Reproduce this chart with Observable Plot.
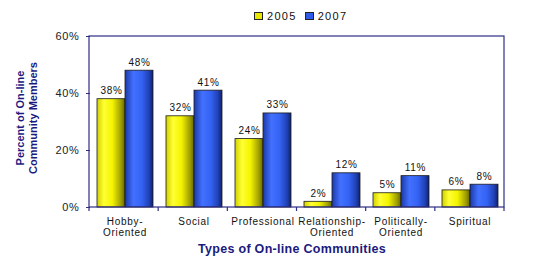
<!DOCTYPE html>
<html><head><meta charset="utf-8">
<script src="https://cdn.jsdelivr.net/npm/d3@7"></script>
<script src="https://cdn.jsdelivr.net/npm/@observablehq/plot@0.6"></script>
<style>
body{margin:0;background:#fff;font-family:"Liberation Sans",Arial,sans-serif;}
#wrap{position:relative;width:540px;height:265px;}
#legend{position:absolute;top:10px;left:254px;font-size:11px;letter-spacing:1.3px;color:#111;display:flex;align-items:center;}
#legend .sw{display:inline-block;width:7px;height:6px;border:1px solid #222;margin-right:4px;}
#ytitle{position:absolute;left:27px;top:118px;transform:translate(-50%,-50%) rotate(-90deg);font-size:11px;font-weight:bold;color:#1a1a80;text-align:center;line-height:13px;white-space:nowrap;}
#xtitle{position:absolute;left:292px;top:242px;transform:translateX(-50%);font-size:12.5px;font-weight:bold;color:#1a1a80;white-space:nowrap;letter-spacing:0.3px;}
svg text{font-family:"Liberation Sans",Arial,sans-serif;}
</style></head>
<body><div id="wrap"></div>
<script>
const categories = ["Hobby-Oriented","Social","Professional","Relationship-Oriented","Politically-Oriented","Spiritual"];
const categoryLabels = ["Hobby-\nOriented","Social","Professional","Relationship-\nOriented","Politically-\nOriented","Spiritual"];
const years = ["2005","2007"];
const values2005 = [38,32,24,2,5,6];
const values2007 = [48,41,33,12,11,8];
const yTicks = [0,20,40,60];

const data = [];
categories.forEach((c,i)=>{
  data.push({cat:c, year:"2005", v:values2005[i]});
  data.push({cat:c, year:"2007", v:values2007[i]});
});
const labelData = categories.map((c,i)=>({cat:c, label:categoryLabels[i]}));

const plot = Plot.plot({
  width:540, height:265,
  marginTop:36, marginBottom:58, marginLeft:89, marginRight:36,
  style:{fontSize:"11px", fontFamily:"Liberation Sans, Arial, sans-serif", color:"#222"},
  fx:{domain:categories, padding:0, axis:null},
  x:{domain:years, paddingOuter:0.23, paddingInner:0, axis:null},
  y:{domain:[0,60], ticks:yTicks, tickFormat:d=>d+"%", tickSize:4, tickPadding:7, label:null},
  color:{type:"identity"},
  marks:[
    Plot.barY(data, {fx:"cat", x:"year", y:"v", fill:d=>"url(#g"+d.year+")", stroke:"#1a1a1a", strokeWidth:0.8}),
    Plot.text(data, {fx:"cat", x:"year", y:"v", text:d=>d.v+"%", dy:-5, lineAnchor:"bottom", fontSize:10, fill:"#111"}),
    Plot.text(labelData, {fx:"cat", text:"label", frameAnchor:"bottom", dy:9, lineAnchor:"top", fontSize:10, fill:"#111", lineHeight:1.15})
  ]
});

const svg = d3.select(plot);
const defs = svg.insert("defs", ":first-child");
const g1 = defs.append("linearGradient").attr("id","g2005").attr("x1",0).attr("x2",1).attr("y1",0).attr("y2",0);
[[0,"#d0d000"],[0.25,"#ffff33"],[0.55,"#f4f400"],[0.85,"#a0a000"],[1,"#666600"]].forEach(([o,c])=>g1.append("stop").attr("offset",o).attr("stop-color",c));
const g2 = defs.append("linearGradient").attr("id","g2007").attr("x1",0).attr("x2",1).attr("y1",0).attr("y2",0);
[[0,"#1c3aa8"],[0.3,"#4270ff"],[0.6,"#3462f2"],[0.85,"#2142b8"],[1,"#10226e"]].forEach(([o,c])=>g2.append("stop").attr("offset",o).attr("stop-color",c));

svg.selectAll("text").style("letter-spacing","0.7px");

const fx = plot.scale("fx"), y = plot.scale("y");
const x0 = fx.range ? Math.min(...fx.range) : 89, x1 = fx.range ? Math.max(...fx.range) : 504;
const yb = Math.max(...y.range), yt = Math.min(...y.range);
svg.append("rect").attr("x",x0).attr("y",yt).attr("width",x1-x0).attr("height",yb-yt)
  .attr("fill","none").attr("stroke","#2e2e86").attr("stroke-width",1.2);
const step = (x1-x0)/categories.length;
for (let i=0;i<=categories.length;i++){
  svg.append("line").attr("x1",x0+i*step).attr("x2",x0+i*step).attr("y1",yb).attr("y2",yb+4)
    .attr("stroke","#2e2e86").attr("stroke-width",1.2);
}
svg.selectAll("[aria-label='y-axis tick'] path, [aria-label='y-axis'] line, [aria-label='y-axis'] path").attr("stroke","#2e2e86");

const wrap = document.getElementById("wrap");
wrap.appendChild(plot);
const legend = document.createElement("div");
legend.id="legend";
legend.innerHTML = years.map((yr,i)=>`<span class="sw" style="background:${i?"#2f5ae8":"#e8e800"}"></span><span style="margin-right:8px">${yr}</span>`).join("");
wrap.appendChild(legend);
const yt_ = document.createElement("div"); yt_.id="ytitle"; yt_.innerHTML="Percent of On-line<br>Community Members"; wrap.appendChild(yt_);
const xt = document.createElement("div"); xt.id="xtitle"; xt.textContent="Types of On-line Communities"; wrap.appendChild(xt);
</script></body></html>
